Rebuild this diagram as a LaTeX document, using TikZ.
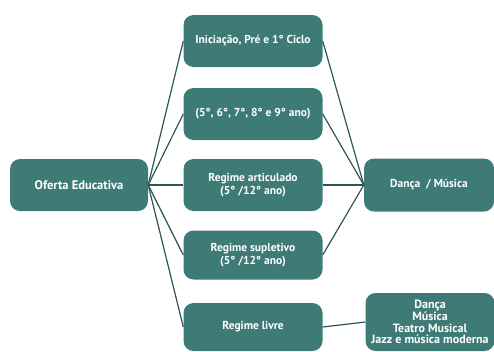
\documentclass[tikz,border=0pt]{standalone}
\usepackage{fontspec}
\setmainfont{PT Sans}
\usepackage{tikz}

\definecolor{tealbox}{HTML}{3E7B77}
\definecolor{tealline}{HTML}{2E5653}

\begin{document}
\begin{tikzpicture}[x=1pt,y=-1pt,
    caixa/.style={fill=tealbox,rounded corners=10pt,text=white,align=center,
      font=\fontsize{11.5}{13}\selectfont\bfseries,inner sep=0pt},
    liga/.style={draw=tealline,line width=1.2pt}]
  \useasboundingbox (0,0) rectangle (494,351);
  \node[caixa,minimum width=138pt,minimum height=52pt] (oferta) at (79,185) {\fontsize{12.5}{14}\selectfont Oferta Educativa};
  \node[caixa,minimum width=139pt,minimum height=52pt] (inic) at (253,41) {Iniciação, Pré e 1° Ciclo};
  \node[caixa,minimum width=139pt,minimum height=52pt] (basico) at (253,114) {(5°, 6°, 7°, 8° e 9° ano)};
  \node[caixa,minimum width=139pt,minimum height=52pt] (artic) at (253,185) {Regime articulado\\(5° /12° ano)};
  \node[caixa,minimum width=139pt,minimum height=49pt] (suplet) at (253,255) {Regime supletivo\\(5° /12° ano)};
  \node[caixa,minimum width=139pt,minimum height=48pt] (livre) at (253,327) {Regime livre};
  \node[caixa,minimum width=130pt,minimum height=53pt] (danca) at (429,185) {Dança~ / Música};
  \node[caixa,minimum width=129pt,minimum height=58pt,font=\fontsize{12}{11.8}\selectfont\bfseries] (artes) at (430,322) {Dança\\Música\\Teatro Musical\\Jazz e música moderna};
  % ligacoes
  \foreach \n in {inic,basico,artic,suplet,livre}
    \draw[liga] (oferta.east) -- (\n.west);
  \foreach \n in {inic,basico,artic,suplet}
    \draw[liga] (\n.east) -- (danca.west);
  \draw[liga] (livre.east) -- (artes.west);
\end{tikzpicture}
\end{document}
